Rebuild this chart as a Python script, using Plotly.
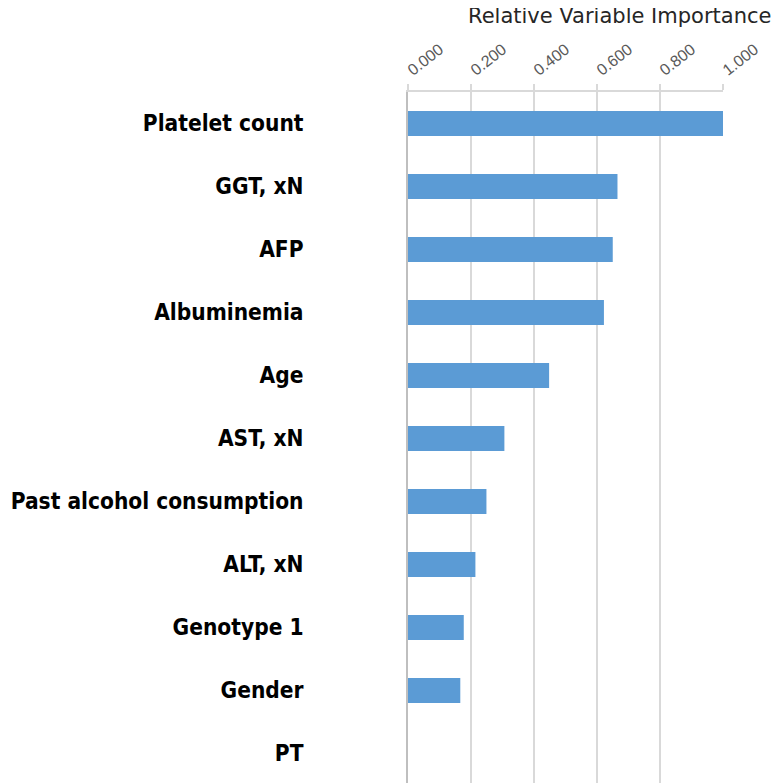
import plotly.graph_objects as go

categories = ["Platelet count", "GGT, xN", "AFP", "Albuminemia", "Age", "AST, xN",
              "Past alcohol consumption", "ALT, xN", "Genotype 1", "Gender", "PT"]
importance = [1.000, 0.665, 0.650, 0.622, 0.448, 0.306, 0.249, 0.214, 0.177, 0.166, 0.0]
tick_vals = [0, 0.2, 0.4, 0.6, 0.8, 1.0]
tick_text = ["0.000", "0.200", "0.400", "0.600", "0.800", "1.000"]

fig = go.Figure(go.Bar(
    x=importance, y=categories, orientation="h",
    marker=dict(color="#5B9BD5", line=dict(width=0)),
    width=0.4,
))

OFF = 8  # page body margin
L, R, T = 408 - OFF, 56, 92 - OFF
W, H = 779 - OFF, 783 - OFF
pw = W - L - R

fig.update_layout(
    width=W, height=H,
    margin=dict(l=L, r=R, t=T, b=0, autoexpand=False),
    plot_bgcolor="white", paper_bgcolor="white",
    showlegend=False,
    bargap=0.6,
    xaxis=dict(
        side="top", range=[0, 1.0], tickvals=tick_vals, ticktext=tick_text,
        tickangle=-38, tickfont=dict(family="Liberation Sans, Arial", size=16, color="#595959"),
        showgrid=True, gridcolor="#D9D9D9", gridwidth=1.5,
        showline=True, linecolor="#D9D9D9", linewidth=1.5,
        ticks="outside", ticklen=6, tickcolor="#D9D9D9", tickwidth=1.5,
        zeroline=False, fixedrange=True, automargin=False,
    ),
    yaxis=dict(
        categoryorder="array", categoryarray=categories,
        range=[10.468, -0.5],
        tickfont=dict(family="DejaVu Sans Condensed, DejaVu Sans", size=22.5, color="black",
                      weight="bold"),
        ticklabelstandoff=98,
        showline=True, linecolor="#BFBFBF", linewidth=2,
        showgrid=False, ticks="", zeroline=False, automargin=False,
    ),
    annotations=[dict(
        text="Relative Variable Importance", xref="paper", yref="paper",
        x=(773 - OFF - L) / pw, y=1.0, yshift=T - 8, xanchor="right", yanchor="middle",
        showarrow=False,
        font=dict(family="DejaVu Sans", size=21, color="#262626"),
    )],
)

fig.write_html("out.html")
